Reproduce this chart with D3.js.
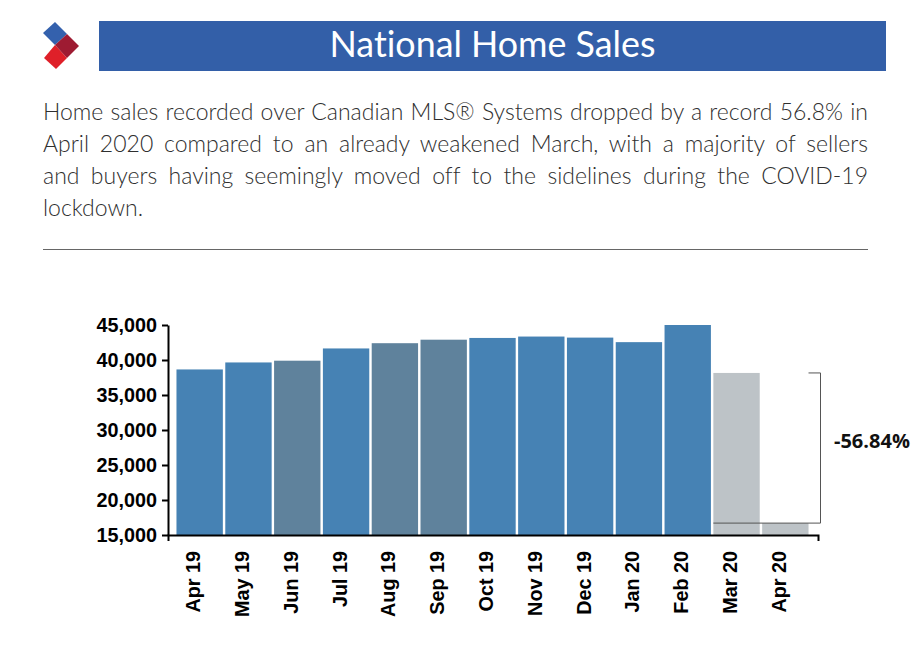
<!DOCTYPE html>
<html>
<head>
<meta charset="utf-8">
<script src="https://cdn.jsdelivr.net/npm/d3@7"></script>
<style>
  html, body { margin: 0; padding: 0; background: #fff; overflow: hidden; }
  #intro {
    position: absolute; left: 43px; top: 95px; width: 825px;
    font: 300 23px/32px Lato, "Open Sans", sans-serif; color: #2f2f2f;
    font-variant-ligatures: none;
  }
  #intro div { text-align: justify; text-align-last: justify; white-space: nowrap; }
  #intro div:last-child { text-align-last: left; }
  svg { position: absolute; left: 0; top: 0; }
</style>
</head>
<body>
<script>
// Values
const months = ["Apr 19", "May 19", "Jun 19", "Jul 19", "Aug 19", "Sep 19", "Oct 19",
  "Nov 19", "Dec 19", "Jan 20", "Feb 20", "Mar 20", "Apr 20"];
const sales = [38650, 39650, 39900, 41650, 42400, 42900, 43150, 43350, 43200, 42550, 45000, 38150, 16700];
const barColors = ["#4682b4", "#4682b4", "#5f829c", "#4682b4", "#5f829c", "#5f829c", "#4682b4",
  "#4682b4", "#4682b4", "#4682b4", "#4682b4", "#bdc3c7", "#bdc3c7"];
const yTicks = [15000, 20000, 25000, 30000, 35000, 40000, 45000];
const changeLabel = "-56.84%";

const titleText = "National Home Sales";
const introLines = [
  "Home sales recorded over Canadian MLS® Systems dropped by a record 56.8% in",
  "April 2020 compared to an already weakened March, with a majority of sellers",
  "and buyers having seemingly moved off to the sidelines during the COVID-19",
  "lockdown."
];

const width = 918;
const height = 651;

const svg = d3.select("body").append("svg")
  .attr("width", width)
  .attr("height", height);

// Logo
const logo = [
  { color: "#3461ad", points: "43,33 55,22 67,34 55,45" },
  { color: "#df2029", points: "44,58 55,45 67,58 56,69" },
  { color: "#9e1b32", points: "55,45 67,34 79,46 67,58" }
];
svg.selectAll(".logo")
  .data(logo)
  .enter()
  .append("polygon")
  .attr("class", "logo")
  .attr("points", d => d.points)
  .attr("fill", d => d.color);

// Header
svg.append("rect")
  .attr("x", 99)
  .attr("y", 21)
  .attr("width", 787)
  .attr("height", 50)
  .attr("fill", "#335fa8");

svg.append("text")
  .attr("x", 492.5)
  .attr("y", 57)
  .attr("text-anchor", "middle")
  .attr("fill", "#fff")
  .attr("font-family", "Lato, 'Open Sans', sans-serif")
  .attr("font-size", 35.8)
  .style("font-variant-ligatures", "none")
  .text(titleText);

d3.select("body").append("div")
  .attr("id", "intro")
  .selectAll("div")
  .data(introLines)
  .enter()
  .append("div")
  .text(d => d);

svg.append("line")
  .attr("x1", 43)
  .attr("x2", 868)
  .attr("y1", 249.5)
  .attr("y2", 249.5)
  .attr("stroke", "#666");

// Chart
const xScale = d3.scaleBand()
  .domain(months)
  .range([175.5, 809.5])
  .paddingInner(0.05)
  .paddingOuter(0.02);

const yScale = d3.scaleLinear()
  .domain([15000, 45000])
  .range([535, 325]);

svg.selectAll(".bar")
  .data(months)
  .enter()
  .append("rect")
  .attr("class", "bar")
  .attr("x", d => xScale(d))
  .attr("y", (d, i) => yScale(sales[i]))
  .attr("width", xScale.bandwidth())
  .attr("height", (d, i) => yScale(15000) - yScale(sales[i]))
  .attr("fill", (d, i) => barColors[i]);

const yAxis = d3.axisLeft(yScale)
  .tickValues(yTicks)
  .tickFormat(d3.format(","))
  .tickSizeOuter(0)
  .tickPadding(5);

const xRange = d3.scaleBand().domain(months).range([168, 818]);
const xAxis = d3.axisBottom(xRange)
  .tickSize(0)
  .tickSizeOuter(6)
  .tickPadding(0);

const yG = svg.append("g")
  .attr("transform", "translate(168,0)")
  .call(yAxis);

const xG = svg.append("g")
  .attr("transform", "translate(0,535)")
  .call(xAxis);

// Category labels sit under the bars, not the axis bands
xG.selectAll(".tick")
  .attr("transform", d => `translate(${xScale(d) + xScale.bandwidth() / 2},0)`);

xG.selectAll("text")
  .attr("transform", "rotate(-90)")
  .attr("x", -16)
  .attr("y", -6.5)
  .attr("dy", "0.35em")
  .attr("text-anchor", "end");

[yG, xG].forEach(g => {
  g.selectAll("path, line").attr("stroke", "#000").attr("stroke-width", 2);
  g.selectAll("text")
    .attr("fill", "#000")
    .attr("font-family", "'Liberation Sans', Arial, sans-serif")
    .attr("font-weight", "bold")
    .attr("font-size", 19.8);
});
yG.selectAll("text").attr("y", 0.5);

// Bracket between March and April 2020
const bracketX = 820.5;
const bracket = d3.path();
bracket.moveTo(xScale("Apr 20") + xScale.bandwidth(), yScale(sales[11]));
bracket.lineTo(bracketX, yScale(sales[11]));
bracket.lineTo(bracketX, yScale(sales[12]));
bracket.lineTo(xScale("Mar 20"), yScale(sales[12]));

svg.append("path")
  .attr("d", bracket.toString())
  .attr("fill", "none")
  .attr("stroke", "#555")
  .attr("stroke-width", 1);

svg.append("text")
  .attr("x", 834)
  .attr("y", 448)
  .attr("fill", "#111")
  .attr("font-family", "'Open Sans', sans-serif")
  .attr("font-weight", "bold")
  .attr("font-size", 20)
  .text(changeLabel);
</script>
</body>
</html>
